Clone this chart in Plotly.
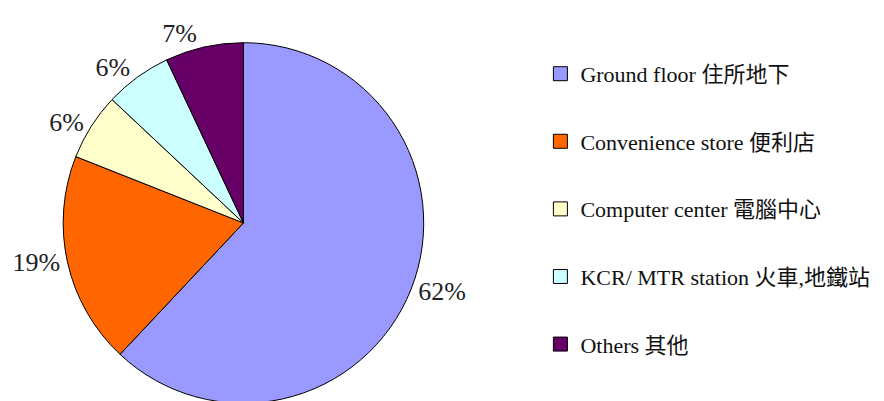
import plotly.graph_objects as go

labels = ["Ground floor 住所地下", "Convenience store 便利店", "Computer center 電腦中心",
          "KCR/ MTR station 火車,地鐵站", "Others 其他"]
values = [62, 19, 6, 6, 7]
colors = ["#9999FF", "#FF6600", "#FFFFCC", "#CCFFFF", "#660066"]

FONT = "Liberation Serif, Times New Roman, Noto Sans CJK TC, serif"

W, H = 884, 401
fig = go.Figure()
fig.add_trace(go.Pie(
    labels=labels, values=values, sort=False, direction="clockwise", rotation=0,
    marker=dict(colors=colors, line=dict(color="black", width=1)),
    textinfo="percent", textposition="outside", texttemplate="%{percent:.0%}",
    outsidetextfont=dict(family=FONT, size=26, color="#222222"),
    showlegend=False, hoverinfo="label+percent",
    domain=dict(x=[49.5/W, 412.5/W], y=[(H - 397)/H, (H - 34)/H]),
))
for i, (lab, col) in enumerate(zip(labels, colors)):
    fig.add_trace(go.Scatter(
        x=[None], y=[None], mode="markers", name=lab, legendgroup=f"g{i}",
        marker=dict(symbol="square", size=14, color=col, line=dict(color="black", width=1)),
    ))

fig.update_layout(
    width=W, height=H, margin=dict(l=0, r=0, t=0, b=0),
    paper_bgcolor="white", plot_bgcolor="white",
    xaxis=dict(visible=False), yaxis=dict(visible=False),
    legend=dict(x=530/W, y=1 - 45/H, xanchor="left", yanchor="top",
                font=dict(family=FONT, size=22, color="#111111"),
                tracegroupgap=36, itemwidth=30, bgcolor="rgba(0,0,0,0)"),
)
fig.write_html("out.html")
